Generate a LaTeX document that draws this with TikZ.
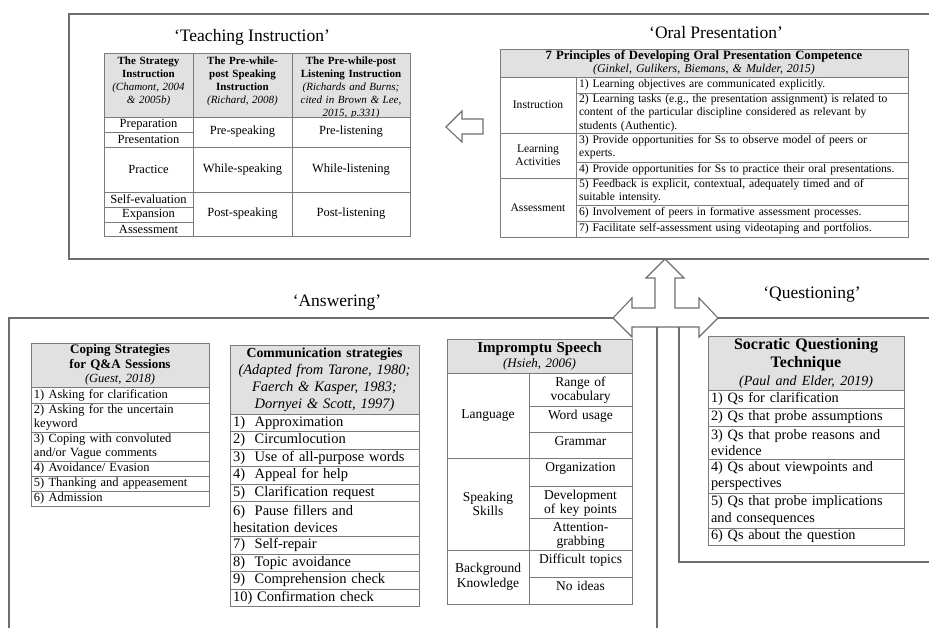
\documentclass[tikz,border=0pt]{standalone}
\usepackage{fontspec}
\setmainfont{Liberation Serif}
\usetikzlibrary{positioning}
\definecolor{LineGray}{HTML}{7A7A7A}
\definecolor{FrameGray}{HTML}{6E6E6E}
\definecolor{HeadGray}{HTML}{E1E1E1}

\begin{document}
\begin{tikzpicture}[x=1pt,y=-1pt,
sect/.style={font=\fontsize{17.5}{20}\selectfont,inner sep=0pt},
hdr/.style={draw=LineGray,fill=HeadGray,line width=0.8pt,align=center,inner sep=0pt,outer sep=0pt},
cell/.style={draw=LineGray,fill=white,line width=0.8pt,align=center,inner sep=0pt,outer sep=0pt},
topcell/.style={cell,text height=13pt,text depth=#1},
lst/.style={cell,align=left,inner xsep=3pt},
frm/.style={draw=FrameGray,line width=1.1pt,line join=miter},
thfont/.style={font=\fontsize{11}{13}\selectfont},
tifont/.style={font=\fontsize{12.5}{14}\selectfont},
opfont/.style={font=\fontsize{11.6}{13.3}\selectfont},
cofont/.style={font=\fontsize{12.5}{14}\selectfont},
csfont/.style={font=\fontsize{14.5}{17}\selectfont},
imfont/.style={font=\fontsize{13.5}{14.5}\selectfont},
sqfont/.style={font=\fontsize{14.3}{16.5}\selectfont}
]
\useasboundingbox (0,0) rectangle (929,628);

\draw[frm] (929,14) -- (69,14) -- (69,259) -- (929,259);
\draw[frm] (613,318) -- (9,318) -- (9,628);
\draw[frm] (657,327) -- (657,628);
\draw[frm] (718,318) -- (929,318);
\draw[frm] (679,327) -- (679,562) -- (929,562);
\draw[frm] (665,259) -- (684,278) -- (675,278) -- (675,308) -- (699,308) -- (699,298) -- (718,318)
  -- (699,337) -- (699,327) -- (632,327) -- (632,337) -- (613,318) -- (632,298) -- (632,308)
  -- (655,308) -- (655,278) -- (646,278) -- cycle;
\draw[frm] (446,127) -- (462,111) -- (462,119) -- (483,119) -- (483,134) -- (462,134) -- (462,142) -- cycle;

\node[sect] (teach) at (252,37) {`Teaching Instruction'};
\node[sect] (oral) at (716,33) {`Oral Presentation'};
\node[sect] (answer) at (337,303) {`Answering'};
\node[sect] (quest) at (812,295) {`Questioning'};

\node[hdr,thfont,text width=89pt,text height=12pt,text depth=52pt,anchor=north west] (ti-h1) at (104,53) {\textbf{The Strategy}\\\textbf{Instruction}\\\textit{(Chamont, 2004}\\\textit{\& 2005b)}};
\node[hdr,thfont,text width=99pt,text height=12pt,text depth=52pt,right=0pt of ti-h1] (ti-h2) {\textbf{The Pre-while-}\\\textbf{post Speaking}\\\textbf{Instruction}\\\textit{(Richard, 2008)}};
\node[hdr,thfont,text width=118pt,text height=12pt,text depth=52pt,right=0pt of ti-h2] (ti-h3) {\textbf{The Pre-while-post}\\\textbf{Listening Instruction}\\\textit{(Richards and Burns;}\\\textit{cited in Brown \& Lee,}\\\textit{2015, p.331)}};
\node[cell,tifont,text width=89pt,minimum height=15pt,below=0pt of ti-h1] (ti-prep) {Preparation};
\node[cell,tifont,text width=89pt,minimum height=15pt,below=0pt of ti-prep] (ti-pres) {Presentation};
\node[cell,tifont,text width=89pt,minimum height=45pt,below=0pt of ti-pres] (ti-prac) {Practice};
\node[cell,tifont,text width=89pt,minimum height=15pt,below=0pt of ti-prac] (ti-self) {Self-evaluation};
\node[cell,tifont,text width=89pt,minimum height=15pt,below=0pt of ti-self] (ti-expa) {Expansion};
\node[cell,tifont,text width=89pt,minimum height=14pt,below=0pt of ti-expa] (ti-asse) {Assessment};
\node[cell,tifont,text width=99pt,minimum height=30pt,below=0pt of ti-h2] (ti-pres2) {Pre-speaking};
\node[cell,tifont,text width=99pt,minimum height=45pt,below=0pt of ti-pres2] (ti-whis) {While-speaking};
\node[cell,tifont,text width=99pt,minimum height=44pt,below=0pt of ti-whis] (ti-posts) {Post-speaking};
\node[cell,tifont,text width=118pt,minimum height=30pt,below=0pt of ti-h3] (ti-prel) {Pre-listening};
\node[cell,tifont,text width=118pt,minimum height=45pt,below=0pt of ti-prel] (ti-whil) {While-listening};
\node[cell,tifont,text width=118pt,minimum height=44pt,below=0pt of ti-whil] (ti-postl) {Post-listening};

\node[hdr,font=\fontsize{12}{12.5}\selectfont,text width=408pt,minimum height=28pt,anchor=north west] (op-h) at (500,49) {{\fontsize{12.7}{12.5}\selectfont\textbf{7 Principles of Developing Oral Presentation Competence}}\\\textit{(Ginkel, Gulikers, Biemans, \& Mulder, 2015)}};
\node[cell,opfont,text width=76pt,minimum height=56pt,below=0pt of op-h.south west,anchor=north west] (op-instr) {Instruction};
\node[cell,opfont,text width=76pt,minimum height=45pt,below=0pt of op-instr] (op-learn) {Learning\\Activities};
\node[cell,opfont,text width=76pt,minimum height=59pt,below=0pt of op-learn] (op-asse) {Assessment};
\node[lst,opfont,text width=326pt,minimum height=16pt,right=0pt of op-instr.north east,anchor=north west] (op-p1) {1) Learning objectives are communicated explicitly.};
\node[lst,opfont,text width=326pt,minimum height=40pt,below=0pt of op-p1] (op-p2) {2) Learning tasks (e.g., the presentation assignment) is related to\\content of the particular discipline considered as relevant by\\students (Authentic).};
\node[lst,opfont,text width=326pt,minimum height=29pt,below=0pt of op-p2] (op-p3) {3) Provide opportunities for Ss to observe model of peers or\\experts.};
\node[lst,opfont,text width=326pt,minimum height=16pt,below=0pt of op-p3] (op-p4) {\mbox{4) Provide opportunities for Ss to practice their oral presentations.}};
\node[lst,opfont,text width=326pt,minimum height=27pt,below=0pt of op-p4] (op-p5) {5) Feedback is explicit, contextual, adequately timed and of\\suitable intensity.};
\node[lst,opfont,text width=326pt,minimum height=16pt,below=0pt of op-p5] (op-p6) {6) Involvement of peers in formative assessment processes.};
\node[lst,opfont,text width=326pt,minimum height=16pt,below=0pt of op-p6] (op-p7) {7) Facilitate self-assessment using videotaping and portfolios.};

\node[hdr,font=\fontsize{13}{14.5}\selectfont,text width=178pt,minimum height=44pt,anchor=north west] (co-h) at (31,343) {\textbf{Coping Strategies}\\\textbf{for Q\&A Sessions}\\{\fontsize{12.5}{14.5}\selectfont\textit{(Guest, 2018)}}};
\node[lst,cofont,text width=172pt,minimum height=16pt,below=0pt of co-h] (co-1) {1) Asking for clarification};
\node[lst,cofont,text width=172pt,minimum height=29pt,below=0pt of co-1] (co-2) {2) Asking for the uncertain\\keyword};
\node[lst,cofont,text width=172pt,minimum height=29pt,below=0pt of co-2] (co-3) {3) Coping with convoluted\\and/or Vague comments};
\node[lst,cofont,text width=172pt,minimum height=15pt,below=0pt of co-3] (co-4) {4) Avoidance/ Evasion};
\node[lst,cofont,text width=172pt,minimum height=15pt,below=0pt of co-4] (co-5) {5) Thanking and appeasement};
\node[lst,cofont,text width=172pt,minimum height=15pt,below=0pt of co-5] (co-6) {6) Admission};

\node[hdr,font=\fontsize{14.5}{17}\selectfont,text width=189pt,minimum height=69pt,anchor=north west] (cs-h) at (230,345) {{\fontsize{13.8}{17}\selectfont\textbf{Communication strategies}}\\\textit{(Adapted from Tarone, 1980;}\\\textit{Faerch \& Kasper, 1983;}\\\textit{Dornyei \& Scott, 1997)}};
\node[lst,csfont,text width=183pt,minimum height=17.5pt,below=0pt of cs-h] (cs-1) {1)~ Approximation};
\node[lst,csfont,text width=183pt,minimum height=17.5pt,below=0pt of cs-1] (cs-2) {2)~ Circumlocution};
\node[lst,csfont,text width=183pt,minimum height=17.5pt,below=0pt of cs-2] (cs-3) {3)~ Use of all-purpose words};
\node[lst,csfont,text width=183pt,minimum height=17.5pt,below=0pt of cs-3] (cs-4) {4)~ Appeal for help};
\node[lst,csfont,text width=183pt,minimum height=17.5pt,below=0pt of cs-4] (cs-5) {5)~ Clarification request};
\node[lst,csfont,text width=183pt,minimum height=35pt,below=0pt of cs-5] (cs-6) {6)~ Pause fillers and\\hesitation devices};
\node[lst,csfont,text width=183pt,minimum height=17.5pt,below=0pt of cs-6] (cs-7) {7)~ Self-repair};
\node[lst,csfont,text width=183pt,minimum height=17.5pt,below=0pt of cs-7] (cs-8) {8)~ Topic avoidance};
\node[lst,csfont,text width=183pt,minimum height=17.5pt,below=0pt of cs-8] (cs-9) {9)~ Comprehension check};
\node[lst,csfont,text width=183pt,minimum height=17.5pt,below=0pt of cs-9] (cs-10) {10) Confirmation check};

\node[hdr,imfont,text width=185pt,minimum height=34pt,anchor=north west] (im-h) at (447,339) {{\fontsize{15}{16}\selectfont\textbf{Impromptu Speech}}\\{\fontsize{13}{14}\selectfont\textit{(Hsieh, 2006)}}};
\node[cell,imfont,text width=82pt,minimum height=85pt,below=0pt of im-h.south west,anchor=north west] (im-lang) {Language};
\node[cell,imfont,text width=82pt,minimum height=92pt,below=0pt of im-lang] (im-skil) {Speaking\\Skills};
\node[cell,imfont,text width=82pt,minimum height=54pt,below=0pt of im-skil] (im-know) {Background\\Knowledge};
\node[topcell=20pt,imfont,text width=103pt,right=0pt of im-lang.north east,anchor=north west] (im-voca) {Range of\\vocabulary};
\node[topcell=13pt,imfont,text width=103pt,below=0pt of im-voca] (im-word) {Word usage};
\node[topcell=13pt,imfont,text width=103pt,below=0pt of im-word] (im-gram) {Grammar};
\node[topcell=15pt,imfont,text width=103pt,below=0pt of im-gram] (im-orga) {Organization};
\node[topcell=19pt,imfont,text width=103pt,below=0pt of im-orga] (im-deve) {Development\\of key points};
\node[topcell=19pt,imfont,text width=103pt,below=0pt of im-deve] (im-atte) {Attention-\\grabbing};
\node[topcell=14pt,imfont,text width=103pt,below=0pt of im-atte] (im-diff) {Difficult topics};
\node[topcell=14pt,imfont,text width=103pt,below=0pt of im-diff] (im-idea) {No ideas};

\node[hdr,font=\fontsize{16}{18}\selectfont,text width=196pt,minimum height=54pt,anchor=north west] (sq-h) at (708,336) {\textbf{Socratic Questioning}\\\textbf{Technique}\\{\fontsize{14}{17}\selectfont\textit{(Paul and Elder, 2019)}}};
\node[lst,sqfont,text width=190pt,minimum height=18pt,below=0pt of sq-h] (sq-1) {1) Qs for clarification};
\node[lst,sqfont,text width=190pt,minimum height=18pt,below=0pt of sq-1] (sq-2) {2) Qs that probe assumptions};
\node[lst,sqfont,text width=190pt,minimum height=33pt,below=0pt of sq-2] (sq-3) {3) Qs that probe reasons and\\evidence};
\node[lst,sqfont,text width=190pt,minimum height=34pt,below=0pt of sq-3] (sq-4) {4) Qs about viewpoints and\\perspectives};
\node[lst,sqfont,text width=190pt,minimum height=35pt,below=0pt of sq-4] (sq-5) {5) Qs that probe implications\\and consequences};
\node[lst,sqfont,text width=190pt,minimum height=17pt,below=0pt of sq-5] (sq-6) {6) Qs about the question};
\end{tikzpicture}
\end{document}
